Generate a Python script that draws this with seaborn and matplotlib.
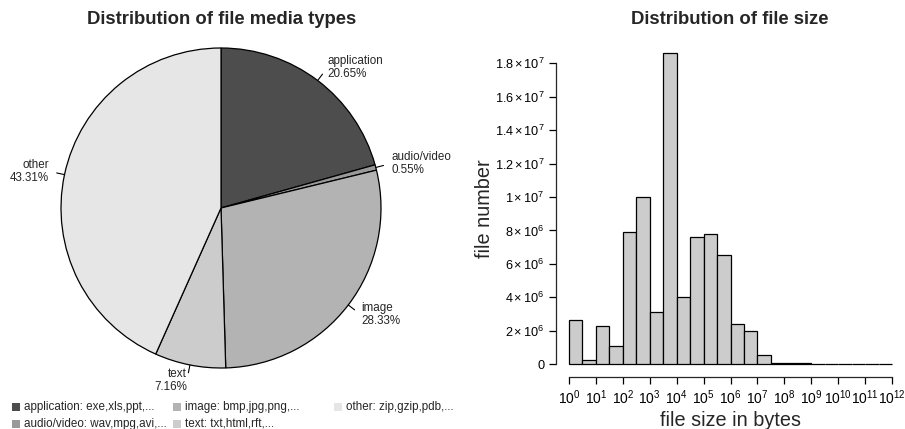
import numpy as np
import pandas as pd
import matplotlib
matplotlib.use("Agg")
import matplotlib.pyplot as plt
from matplotlib.patches import Rectangle
import seaborn as sns

# ---- data -----------------------------------------------------------------
media_types = ["application", "audio/video", "image", "text", "other"]
media_shares = [20.65, 0.55, 28.33, 7.16, 43.31]
media_colors = ["#4d4d4d", "#999999", "#b3b3b3", "#cccccc", "#e6e6e6"]
legend_labels = [
    "application: exe,xls,ppt,...",
    "audio/video: wav,mpg,avi,...",
    "image: bmp,jpg,png,...",
    "text: txt,html,rft,...",
    "other: zip,gzip,pdb,...",
]

# half-decade bins in log10(bytes)
log_bin_edges = [0, 0.5, 1, 1.5, 2, 2.5, 3, 3.5, 4, 4.5, 5, 5.5, 6,
                 6.5, 7, 7.5, 8, 8.5, 9, 9.5, 10, 10.5, 11, 11.5, 12]
file_counts = [2.67e6, 0.28e6, 2.31e6, 1.11e6, 7.90e6, 10.0e6, 3.11e6, 18.6e6,
               4.05e6, 7.60e6, 7.78e6, 6.56e6, 2.40e6, 2.01e6, 0.54e6, 0.10e6,
               0.05e6, 0.05e6, 0.02e6, 0.01e6, 0.005e6, 0.003e6, 0.001e6, 0.0005e6]
x_tick_exponents = list(range(0, 13))
y_tick_values = [0, 2e6, 4e6, 6e6, 8e6, 1e7, 1.2e7, 1.4e7, 1.6e7, 1.8e7]

# ---- style ----------------------------------------------------------------
sns.set_style("ticks")
plt.rcParams["font.family"] = ["Liberation Sans", "DejaVu Sans"]
plt.rcParams["mathtext.fontset"] = "custom"
plt.rcParams["mathtext.rm"] = "Liberation Sans"
plt.rcParams["mathtext.it"] = "Liberation Sans:italic"
plt.rcParams["mathtext.bf"] = "Liberation Sans:bold"

W, H = 905, 429
fig = plt.figure(figsize=(W / 100, H / 100), dpi=100)


def fx(px):
    return px / W


def fy(py):
    return 1 - py / H


# ---- pie: media types (axes in pixel units) -------------------------------
ax1 = fig.add_axes([0, 0, 1, 1])
cx, cy, r = 221, H - 208, 160
wedges, _ = ax1.pie(media_shares, colors=media_colors, startangle=90,
                    counterclock=False, center=(cx, cy), radius=r,
                    wedgeprops=dict(edgecolor="black", linewidth=0.9))
ax1.set_xlim(0, W)
ax1.set_ylim(0, H)
ax1.set_aspect("auto")
ax1.axis("off")

for w, name, share in zip(wedges, media_types, media_shares):
    ang = np.deg2rad((w.theta1 + w.theta2) / 2)
    c, s = np.cos(ang), np.sin(ang)
    ax1.plot([cx + r * c, cx + 1.05 * r * c], [cy + r * s, cy + 1.05 * r * s],
             color="black", lw=0.8)
    ax1.text(cx + 1.1 * r * c, cy + 1.1 * r * s, f"{name}\n{share:.2f}%",
             ha="left" if c > 0 else "right", va="center", fontsize=8.4,
             linespacing=1.15)

fig.text(fx(222), fy(19), "Distribution of file media types",
         ha="center", va="center", fontsize=13.3, fontweight="bold")

# legend laid out in equal-width columns, filled column by column
col_x = [12, 173, 334]
row_y = [407, 424]
for i, (lab, col) in enumerate(zip(legend_labels, media_colors)):
    cxl, ryl = col_x[i // 2], row_y[i % 2]
    fig.patches.append(Rectangle((fx(cxl), fy(ryl + 4)), 8 / W, 8 / H,
                                 transform=fig.transFigure, facecolor=col,
                                 edgecolor="none"))
    fig.text(fx(cxl + 11.5), fy(ryl), lab, ha="left", va="center",
             fontsize=8.4)

# ---- histogram: file sizes ------------------------------------------------
left, right, bottom, top = 556, 905, 376.7, 40.7
ax2 = fig.add_axes([fx(left), fy(bottom), (right - left) / W, (bottom - top) / H])
bin_mid = [(a + b) / 2 for a, b in zip(log_bin_edges[:-1], log_bin_edges[1:])]
hist_df = pd.DataFrame({"log_size": bin_mid, "count": file_counts})
sns.histplot(data=hist_df, x="log_size", weights="count", bins=log_bin_edges,
             color="#cccccc", edgecolor="black", linewidth=0.9, alpha=1,
             ax=ax2)

ax2.set_xlim(-0.48, 12.48)
ax2.set_ylim(-0.744e6, 19.35e6)
for side in ("top", "right"):
    ax2.spines[side].set_visible(False)
ax2.spines["left"].set_bounds(0, 1.8e7)
ax2.spines["bottom"].set_bounds(0, 12)
for side in ("left", "bottom"):
    ax2.spines[side].set_linewidth(0.9)

ax2.set_xticks(x_tick_exponents)
ax2.set_xticklabels([rf"$10^{{{e}}}$" for e in x_tick_exponents], fontsize=10)


def sci_label(v):
    if v == 0:
        return "0"
    exp = int(np.floor(np.log10(v)))
    mant = v / 10 ** exp
    mant_s = f"{mant:g}"
    return rf"${mant_s}\,{{\times}}\,10^{{{exp}}}$"


ax2.set_yticks(y_tick_values)
ax2.set_yticklabels([sci_label(v) for v in y_tick_values], fontsize=9.2)
ax2.tick_params(axis="both", direction="out", length=5, width=0.9, pad=3.5,
                colors="black")
ax2.set_xlabel("file size in bytes", fontsize=14.3, labelpad=3)
ax2.set_ylabel("file number", fontsize=14.3)
ax2.yaxis.set_label_coords((494 - left) / (right - left), 0.5)

fig.text(fx(730), fy(19), "Distribution of file size",
         ha="center", va="center", fontsize=13.3, fontweight="bold")

fig.savefig("out.png", dpi=100)
